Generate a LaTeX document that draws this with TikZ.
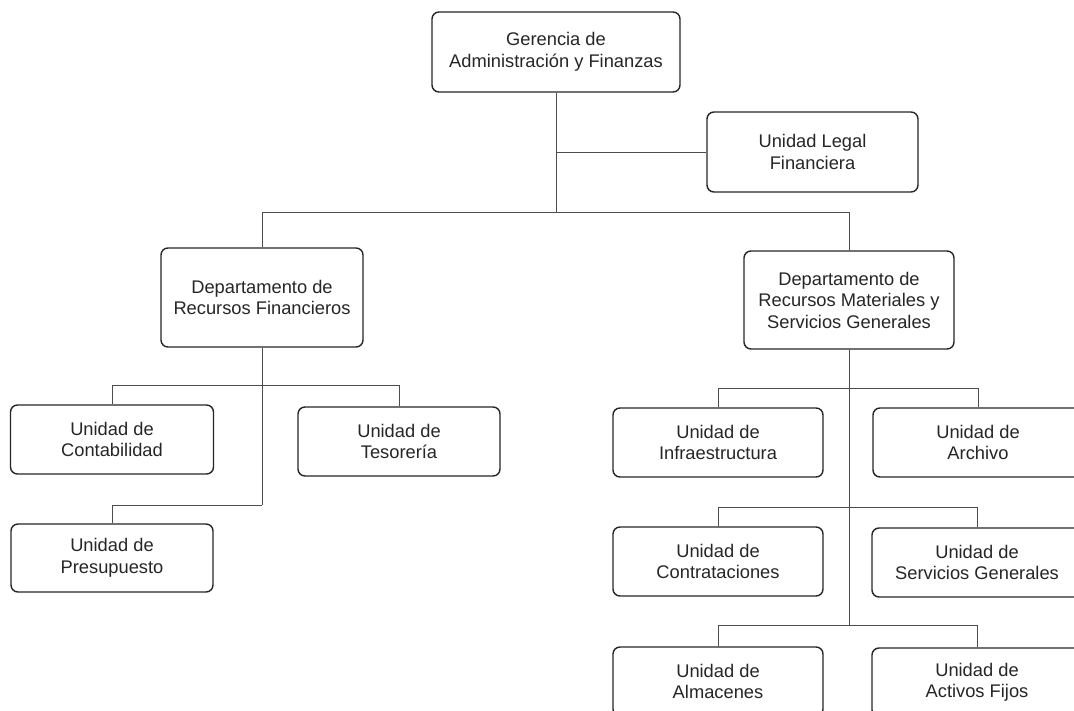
\documentclass[tikz,border=0pt]{standalone}
\usepackage{fontspec}
\setmainfont{Liberation Sans}
\begin{document}
\begin{tikzpicture}[x=1pt,y=-1pt,
  unitbox/.style={draw=black!85, line width=1.4pt, rounded corners=7pt, fill=white,
    align=center, inner sep=0pt, text=black!85,
    font=\fontsize{18.3}{21.5}\selectfont},
  conn/.style={draw=black!70, line width=0.9pt}]
\useasboundingbox[fill=white] (0,0) rectangle (1074,711);
\begin{scope}
\clip (0,0) rectangle (1074,711);
\node[unitbox, minimum width=248pt, minimum height=80pt] (top) at (556,52) {Gerencia de\\Administración y Finanzas};
\node[unitbox, minimum width=211pt, minimum height=80pt] (legal) at (812.5,152) {Unidad Legal\\Financiera};
\node[unitbox, minimum width=202pt, minimum height=99pt] (depF) at (262,297.5) {Departamento de\\Recursos Financieros};
\node[unitbox, minimum width=210pt, minimum height=98pt] (depM) at (849,300) {Departamento de\\Recursos Materiales y\\Servicios Generales};
\node[unitbox, minimum width=203pt, minimum height=69pt] (cont) at (112,439.5) {Unidad de\\Contabilidad};
\node[unitbox, minimum width=202pt, minimum height=69pt] (teso) at (399,441.5) {Unidad de\\Tesorería};
\node[unitbox, minimum width=202pt, minimum height=68pt] (pres) at (112,558) {Unidad de\\Presupuesto};
\node[unitbox, minimum width=210pt, minimum height=69pt] (infra) at (718,442.5) {Unidad de\\Infraestructura};
\node[unitbox, minimum width=210pt, minimum height=69pt] (arch) at (978,442.5) {Unidad de\\Archivo};
\node[unitbox, minimum width=210pt, minimum height=69pt] (contr) at (718,561.5) {Unidad de\\Contrataciones};
\node[unitbox, minimum width=210pt, minimum height=69pt] (serv) at (977,562.5) {Unidad de\\Servicios Generales};
\node[unitbox, minimum width=210pt, minimum height=69pt] (alm) at (718,681.5) {Unidad de\\Almacenes};
\node[unitbox, minimum width=210pt, minimum height=69pt] (act) at (977,682.5) {Unidad de\\Activos Fijos};

\coordinate (j0) at (556,212);
\coordinate (jF1) at (262,385);
\coordinate (jF2) at (262,505);
\coordinate (jM1) at (849,388);
\coordinate (jM2) at (849,507);
\coordinate (jM3) at (849,625);

\draw[conn] (top.south) -- (j0);
\draw[conn] (top.south |- legal.west) -- (legal.west);
\draw[conn] (depF.north) -- (depF.north |- j0) -- (depM.north |- j0) -- (depM.north);

\draw[conn] (depF.south) -- (jF2);
\draw[conn] (cont.north) -- (cont.north |- jF1) -- (teso.north |- jF1) -- (teso.north);
\draw[conn] (jF2) -- (pres.north |- jF2) -- (pres.north);

\draw[conn] (depM.south) -- (jM3);
\draw[conn] (infra.north) -- (infra.north |- jM1) -- (arch.north |- jM1) -- (arch.north);
\draw[conn] (contr.north) -- (contr.north |- jM2) -- (serv.north |- jM2) -- (serv.north);
\draw[conn] (alm.north) -- (alm.north |- jM3) -- (act.north |- jM3) -- (act.north);
\end{scope}
\end{tikzpicture}
\end{document}
